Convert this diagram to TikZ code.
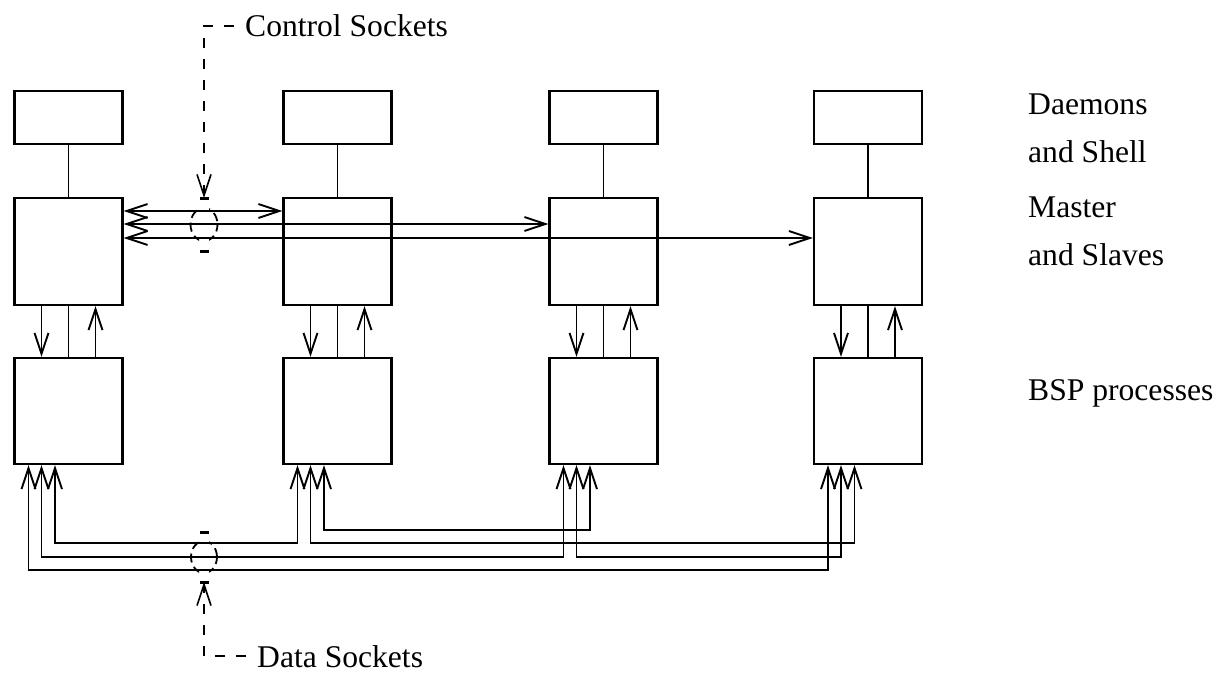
\documentclass[tikz,border=0pt]{standalone}
\usepackage{fontspec}
\setmainfont{Liberation Serif}
\usetikzlibrary{arrows.meta}
\begin{document}
\begin{tikzpicture}[x=1pt,y=-1pt,
  box/.style={draw,line width=2.1pt,inner sep=0pt,minimum width=108pt},
  topbox/.style={box,minimum height=53pt},
  midbox/.style={box,minimum height=107pt},
  botbox/.style={box,minimum height=106pt},
  link/.style={line width=1.9pt},
  tipend/.style={-{Straight Barb[length=21pt,width=14pt]}},
  tipboth/.style={{Straight Barb[length=21pt,width=14pt]}-{Straight Barb[length=21pt,width=14pt]}},
  leader/.style={line width=1.6pt,dash pattern=on 10pt off 11pt,dash phase=10pt},
  sock/.style={line width=1.8pt,dash pattern=on 9pt off 5pt,dash phase=2pt},
  bar/.style={line width=3pt},
  lbl/.style={inner sep=0pt,font=\fontsize{31.6}{38}\selectfont}
]
\useasboundingbox (0,0) rectangle (1220,682);

% boxes
\foreach \i/\x in {1/68.5,2/337.5,3/603.5,4/868}{
  \node[topbox] (t\i) at (\x,117.5) {};
  \node[midbox] (m\i) at (\x,251.5) {};
  \node[botbox] (b\i) at (\x,411) {};
  \draw[link] (t\i.south) -- (m\i.north);
  \draw[link,tipend] ([xshift=-27pt]m\i.south) -- ([xshift=-27pt]b\i.north);
  \draw[link] (m\i.south) -- (b\i.north);
  \draw[link,tipend] ([xshift=27pt]b\i.north) -- ([xshift=27pt]m\i.south);
  \coordinate (b\i a) at ([xshift=-40pt]b\i.south);
  \coordinate (b\i b) at ([xshift=-27pt]b\i.south);
  \coordinate (b\i c) at ([xshift=-13.5pt]b\i.south);
}

% control socket lines
\coordinate (c1) at (0,211);
\coordinate (c2) at (0,224);
\coordinate (c3) at (0,238);
\draw[link,tipboth] (m1.east |- c1) -- (m2.west |- c1);
\draw[link,tipboth] (m1.east |- c2) -- (m3.west |- c2);
\draw[link,tipboth] (m1.east |- c3) -- (m4.west |- c3);

% data socket lines
\coordinate (L530) at (0,530);
\coordinate (L543) at (0,543);
\coordinate (L557) at (0,557);
\coordinate (L570) at (0,570);
\draw[link,tipboth] (b1c) -- (b1c |- L543) -| (b2a);
\draw[link,tipboth] (b1b) -- (b1b |- L557) -| (b3a);
\draw[link,tipboth] (b1a) -- (b1a |- L570) -| (b4a);
\draw[link,tipboth] (b2c) -- (b2c |- L530) -| (b3c);
\draw[link,tipboth] (b2b) -- (b2b |- L543) -| (b4c);
\draw[link,tipboth] (b3b) -- (b3b |- L557) -| (b4b);

% socket groups (dashed sides only)
\coordinate (cs0) at (204,224.5);
\coordinate (ds0) at (204,557);
\begin{scope}
  \clip (180,190) rectangle (199,260) (209,190) rectangle (230,260);
  \draw[sock] (cs0) ellipse [x radius=13.5, y radius=16.5];
\end{scope}
\begin{scope}
  \clip (180,530) rectangle (199,585) (209,530) rectangle (230,585);
  \draw[sock] (ds0) ellipse [x radius=13, y radius=16];
\end{scope}
\draw[bar] (199.5,198) -- (208.5,198);
\draw[bar] (199.5,251) -- (208.5,251);
\draw[bar] (199.5,532) -- (208.5,532);
\draw[bar] (199.5,582) -- (208.5,582);

% labels
\node[lbl,anchor=base west] (cs) at (245,37) {Control Sockets};
\node[lbl,anchor=base west] (ds) at (257,667) {Data Sockets};
\coordinate (ctip) at (204,198);
\coordinate (dtip) at (204,582);
\draw[leader,tipend] (cs.west) -| (ctip);
\draw[leader,tipend] (ds.west) -| (dtip);

\node[lbl,anchor=base west] (r1) at (1028,115) {Daemons};
\node[lbl,anchor=base west] (r2) at (1028,162) {and Shell};
\node[lbl,anchor=base west] (r3) at (1028,217) {Master};
\node[lbl,anchor=base west] (r4) at (1028,265) {and Slaves};
\node[lbl,anchor=base west] (r5) at (1028,400) {BSP processes};
\end{tikzpicture}
\end{document}
